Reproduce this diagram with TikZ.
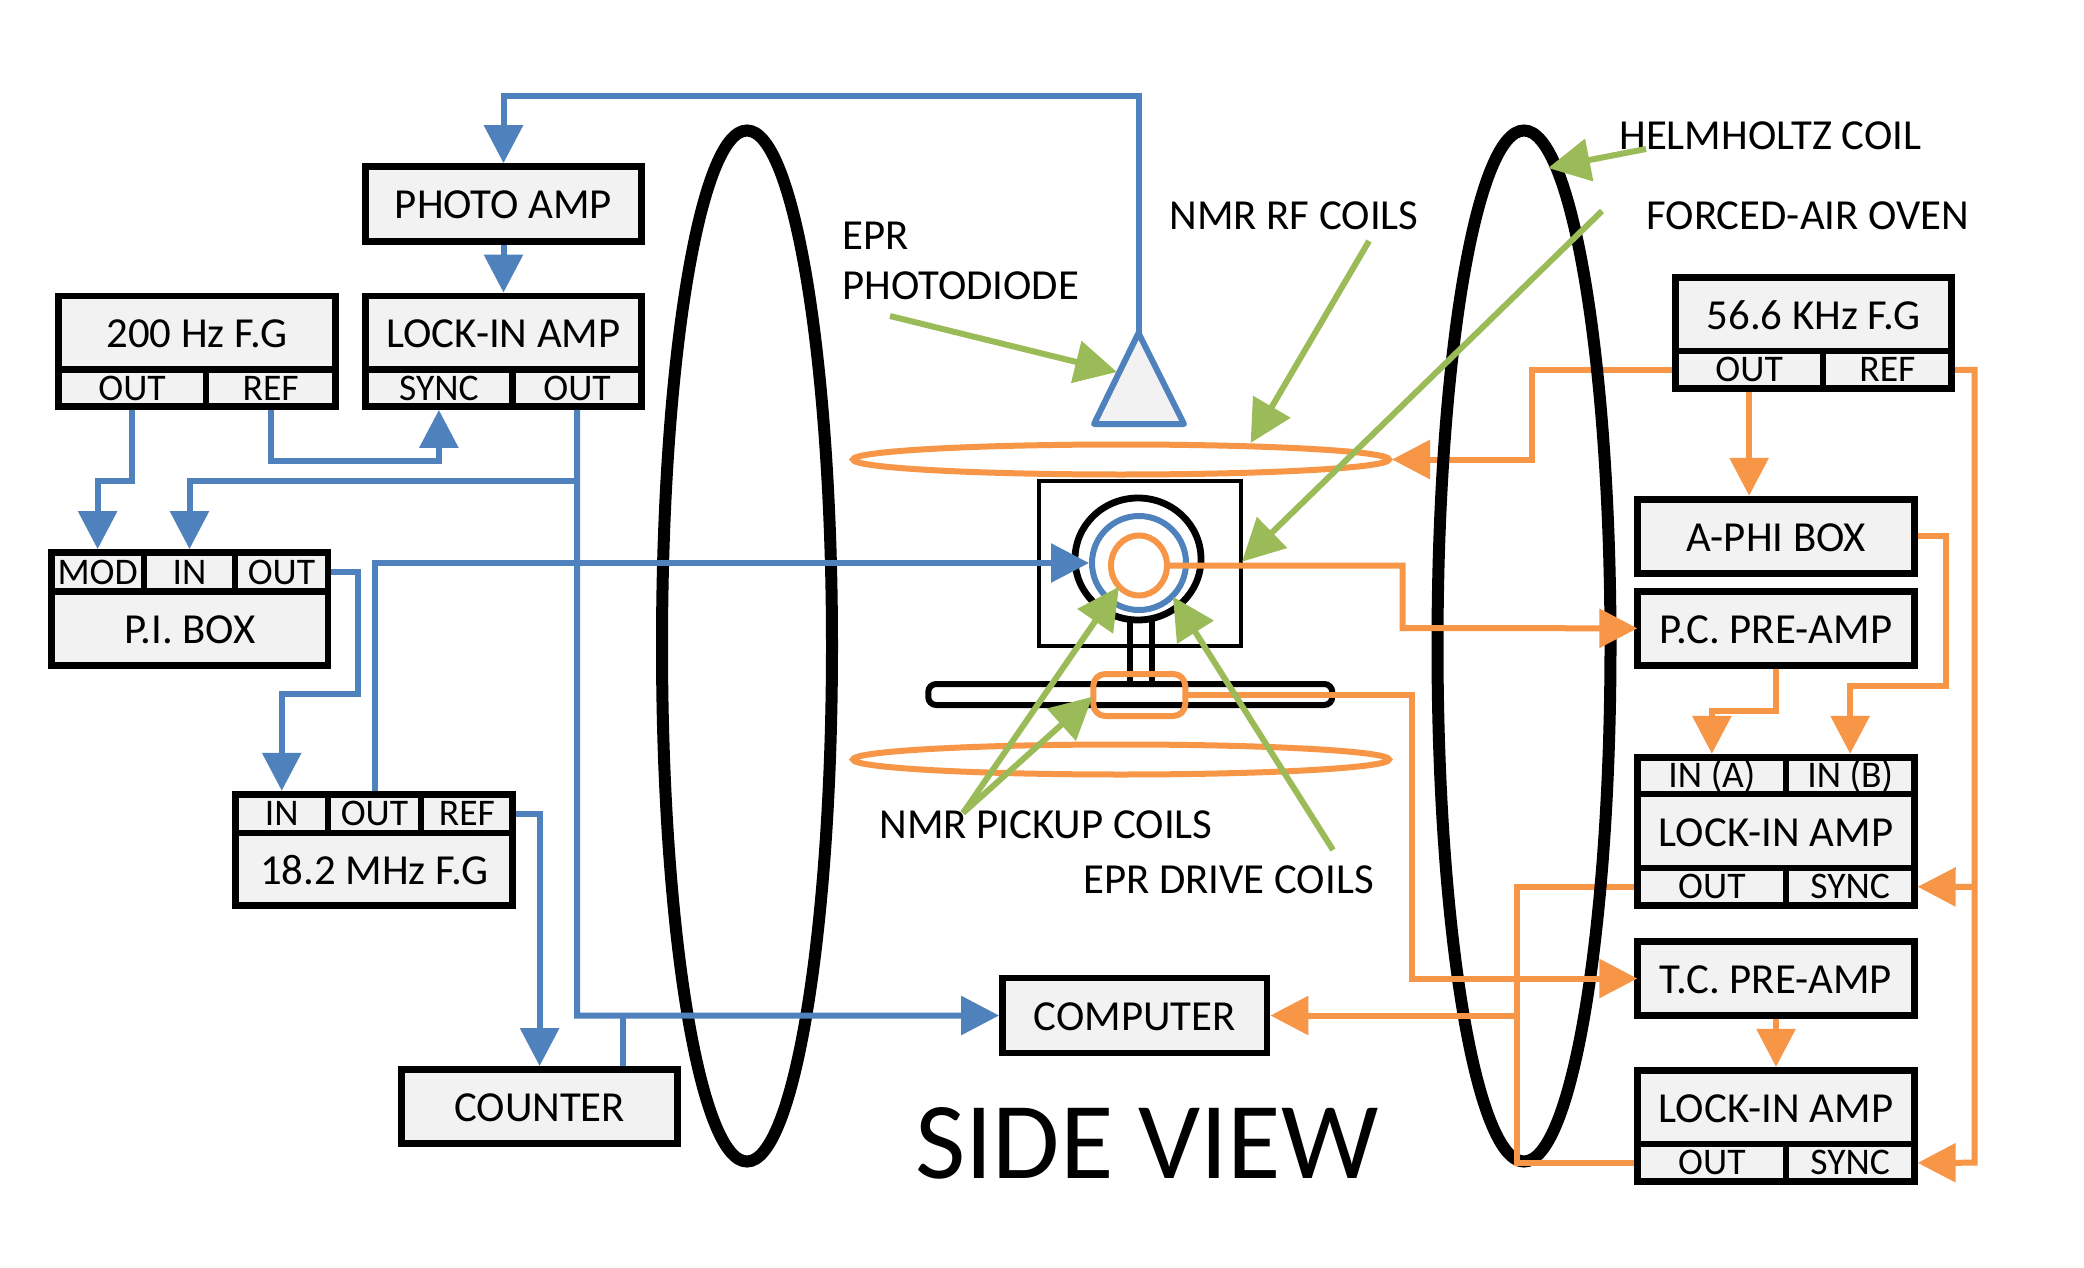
\documentclass[tikz,border=0pt]{standalone}
\usepackage{fontspec}
\setmainfont{Carlito}
\usetikzlibrary{arrows.meta,shapes.geometric}
\definecolor{bl}{HTML}{4F81BD}
\definecolor{og}{HTML}{F79646}
\definecolor{gr}{HTML}{9BBB59}
\definecolor{bx}{HTML}{F2F2F2}
\tikzset{
  x=0.5pt,y=-0.5pt,
  cellbox/.style={draw=black,line width=3.4pt,fill=bx,inner sep=0pt},
  mainbox/.style={cellbox,font=\fontsize{21.4pt}{24pt}\selectfont,text height=15pt,text depth=0pt},
  portbox/.style={cellbox,font=\fontsize{18.8pt}{20pt}\selectfont,text height=12.1pt,text depth=0pt},
  lab/.style={inner sep=0pt,text height=13.8pt,text depth=0pt,font=\fontsize{21.4pt}{24pt}\selectfont},
  head/.style={-{Triangle[length=19pt,width=19pt]}},
  blueline/.style={draw=bl,line width=3pt},
  orangeline/.style={draw=og,line width=3pt},
  greenline/.style={draw=gr,line width=3pt,-{Triangle[length=21pt,width=21pt]}},
}
% name, style, x1, y1, x2, y2, text (centre-line coordinates)
\newcommand{\boxn}[7]{\node[#2,minimum width={(#5-#3)*0.5pt},minimum height={(#6-#4)*0.5pt}] (#1) at ({(#3+#5)/2},{(#4+#6)/2}) {#7};}
\begin{document}
\begin{tikzpicture}
\useasboundingbox[fill=white] (0,0) rectangle (2084,1268);

% boxes
\boxn{photo}{mainbox}{365.25}{166.6}{641.75}{241.4}{PHOTO AMP}
\boxn{fgA}{mainbox}{58.25}{296}{335.5}{369.7}{200 Hz F.G}
\boxn{fgAout}{portbox}{58.25}{369.7}{206}{406.5}{OUT}
\boxn{fgAref}{portbox}{206}{369.7}{335.5}{406.5}{REF}
\boxn{lockA}{mainbox}{365.25}{296}{641.75}{369.7}{LOCK-IN AMP}
\boxn{lockAsync}{portbox}{365.25}{369.7}{512.5}{406.5}{SYNC}
\boxn{lockAout}{portbox}{512.5}{369.7}{641.75}{406.5}{OUT}
\boxn{piMod}{portbox}{51.25}{552.5}{144}{591.7}{MOD}
\boxn{piIn}{portbox}{144}{552.5}{235}{591.7}{IN}
\boxn{piOut}{portbox}{235}{552.5}{328}{591.7}{OUT}
\boxn{pi}{mainbox}{51.25}{591.7}{328}{665.35}{P.I. BOX}
\boxn{mhzIn}{portbox}{235.5}{794.25}{328}{833}{IN}
\boxn{mhzOut}{portbox}{328}{794.25}{421}{833}{OUT}
\boxn{mhzRef}{portbox}{421}{794.25}{512.75}{833}{REF}
\boxn{mhz}{mainbox}{235.5}{833}{512.75}{905.5}{18.2 MHz F.G}
\boxn{counter}{mainbox}{401.5}{1069.5}{677.75}{1143.75}{COUNTER}
\boxn{computer}{mainbox}{1002.5}{978}{1267}{1053}{COMPUTER}
\boxn{fgB}{mainbox}{1675.25}{277.25}{1951.75}{351}{56.6 KHz F.G}
\boxn{fgBout}{portbox}{1675.25}{351}{1823}{388.75}{OUT}
\boxn{fgBref}{portbox}{1823}{351}{1951.75}{388.75}{REF}
\boxn{aphi}{mainbox}{1637.75}{499.25}{1914.25}{573.45}{A-PHI BOX}
\boxn{pcpre}{mainbox}{1637.75}{591.25}{1914.25}{665.45}{P.C. PRE-AMP}
\boxn{lockBa}{portbox}{1637.75}{757.25}{1786}{794}{IN (A)}
\boxn{lockBb}{portbox}{1786}{757.25}{1914.25}{794}{IN (B)}
\boxn{lockB}{mainbox}{1637.75}{794}{1914.25}{868}{LOCK-IN AMP}
\boxn{lockBout}{portbox}{1637.75}{868}{1786}{905.45}{OUT}
\boxn{lockBsync}{portbox}{1786}{868}{1914.25}{905.45}{SYNC}
\boxn{tcpre}{mainbox}{1637.75}{941.25}{1914.25}{1015.75}{T.C. PRE-AMP}
\boxn{lockC}{mainbox}{1637.75}{1070.25}{1914.25}{1144}{LOCK-IN AMP}
\boxn{lockCout}{portbox}{1637.75}{1144}{1786}{1181.75}{OUT}
\boxn{lockCsync}{portbox}{1786}{1144}{1914.25}{1181.75}{SYNC}

% apparatus nodes
\node[ellipse,draw=og,line width=3pt,inner sep=0pt,minimum width=268pt,minimum height=15pt] (rfUp) at (1121,459.5) {};
\node[ellipse,draw=og,line width=3pt,inner sep=0pt,minimum width=268pt,minimum height=15pt] (rfDown) at (1121,759.5) {};

% lines that pass under the Helmholtz coil
\coordinate (a1) at (1532,459.5);
\draw[orangeline,head] (fgBout.west) -| (a1) -- (rfUp.east);
\coordinate (a2) at (1516.6,1015.5);
\draw[orangeline] (lockBout.west) -| (a2);

% Helmholtz coils
\node[ellipse,draw=black,line width=6pt,inner sep=0pt,minimum width=85pt,minimum height=515.5pt] (coilL) at (747,646) {};
\node[ellipse,draw=black,line width=6pt,inner sep=0pt,minimum width=86.5pt,minimum height=515.5pt] (coilR) at (1524,646) {};

% oven and sample
\node[draw=black,line width=2pt,inner sep=0pt,minimum width=101pt,minimum height=82.5pt] (oven) at (1139.5,563.5) {};
\node[ellipse,draw=black,line width=3.4pt,inner sep=0pt,minimum width=63pt,minimum height=61pt] (cell) at (1138,559) {};
\node[ellipse,draw=bl,line width=3pt,inner sep=0pt,minimum width=47pt,minimum height=47pt] (drive) at (1139,563) {};
\node[ellipse,draw=og,line width=3pt,inner sep=0pt,minimum width=28pt,minimum height=30pt] (pick) at (1139,565.5) {};
\coordinate (stemLa) at (1129.7,620);
\coordinate (stemRa) at (1152,620);
\node[draw=black,line width=3pt,rounded corners=4pt,inner sep=0pt,minimum width=202pt,minimum height=10.5pt] (bar) at (1130.25,694.5) {};
\draw[black,line width=3pt] (stemLa) -- (stemLa |- bar.north);
\draw[black,line width=3pt] (stemRa) -- (stemRa |- bar.north);
\node[draw=og,line width=3pt,rounded corners=6pt,inner sep=0pt,minimum width=46pt,minimum height=21pt] (tc) at (1139.25,695) {};

% EPR photodiode
\coordinate (apex) at (1138.5,333);
\coordinate (baseL) at (1094,424);
\coordinate (baseR) at (1184,424);
\draw[blueline,fill=bx,line join=round] (apex) -- (baseR) -- (baseL) -- cycle;

% blue connectors
\coordinate (b1) at (1138.5,96);
\coordinate (b2) at (503.5,96);
\draw[blueline,head] (apex) -- (b1) -- (b2) -- (photo.north);
\draw[blueline,head] (photo.south) -- (lockA.north);
\coordinate (b3) at (132,480.7);
\draw[blueline,head] (fgAout.south) |- (b3) -| (piMod.north);
\coordinate (b4) at (272,460.8);
\draw[blueline,head] (fgAref.south) |- (b4) -| (lockAsync.south);
\coordinate (b5) at (577.1,480.7);
\coordinate (b6) at (577.1,1015.5);
\draw[blueline,head] (lockAout.south) -- (b6) -- (computer.west);
\draw[blueline,head] (b5) -| (piIn.north);
\coordinate (b7) at (623,1015.5);
\draw[blueline] (b7) -- (b7 |- counter.north);
\coordinate (b8) at (358,693.5);
\draw[blueline,head] (piOut.east) -| (b8) -| (mhzIn.north);
\draw[blueline,head] (mhzOut.north) |- (drive.west);
\draw[blueline,head] (mhzRef.east) -| (counter.north);

% orange connectors
\draw[orangeline,head] (fgBout.south) -- (fgBout.south |- aphi.north);
\coordinate (c1) at (1974.7,1162.7);
\coordinate (c2) at (1974.7,887);
\draw[orangeline,head] (fgBref.east) -| (c1) -- (lockCsync.east);
\draw[orangeline,head] (c2) -- (lockBsync.east);
\coordinate (c3) at (1946,686);
\draw[orangeline,head] (aphi.east) -| (c3) -| (lockBb.north);
\coordinate (c4) at (1776,711);
\draw[orangeline,head] (pcpre.south) -- (c4) -| (lockBa.north);
\coordinate (c5) at (1402.6,628);
\draw[orangeline,head,shorten >=-1.5pt] (pick.east) -| (c5) -- (pcpre.west);
\coordinate (c6) at (1412,978.5);
\draw[orangeline,head,shorten >=-1.5pt] (tc.east) -| (c6) -- (tcpre.west);
\draw[orangeline,head] (tcpre.south) -- (lockC.north);
\draw[orangeline] (a2) |- (lockCout.west);
\draw[orangeline,head] (a2) -- (computer.east);

% labels
\node[lab,anchor=west] (lEpr) at (842,236) {EPR};
\node[lab,anchor=west] (lPhoto) at (842,286) {PHOTODIODE};
\node[lab] (lRf) at (1294,216) {NMR RF COILS};
\node[lab,anchor=west] (lHelm) at (1619,136) {HELMHOLTZ COIL};
\node[lab,anchor=west] (lOven) at (1646,216) {FORCED-AIR OVEN};
\node[lab,anchor=west] (lPick) at (879,825) {NMR PICKUP COILS};
\node[lab,anchor=west] (lDrive) at (1083,880) {EPR DRIVE COILS};
\node[inner sep=0pt,text height=35pt,text depth=0pt,font=\fontsize{54.7pt}{58pt}\selectfont] (lSide) at (1147,1143) {SIDE VIEW};

% green pointers
\coordinate (g1s) at (890,316);
\coordinate (g1e) at (1117,372);
\draw[greenline] (g1s) -- (g1e);
\coordinate (g2s) at (1369,241);
\coordinate (g2e) at (1250.6,443);
\draw[greenline] (g2s) -- (g2e);
\coordinate (g3s) at (1602,211);
\coordinate (g3e) at (1242,561.7);
\draw[greenline] (g3s) -- (g3e);
\coordinate (g4s) at (1646,149);
\coordinate (g4e) at (1548,168);
\draw[greenline] (g4s) -- (g4e);
\coordinate (g5s) at (963,813);
\coordinate (g5e) at (1119,586.7);
\coordinate (g6e) at (1092.6,696.7);
\draw[greenline] (g5s) -- (g5e);
\draw[greenline] (g5s) -- (g6e);
\coordinate (g7s) at (1333,850);
\coordinate (g7e) at (1173,596.7);
\draw[greenline] (g7s) -- (g7e);
\end{tikzpicture}
\end{document}
